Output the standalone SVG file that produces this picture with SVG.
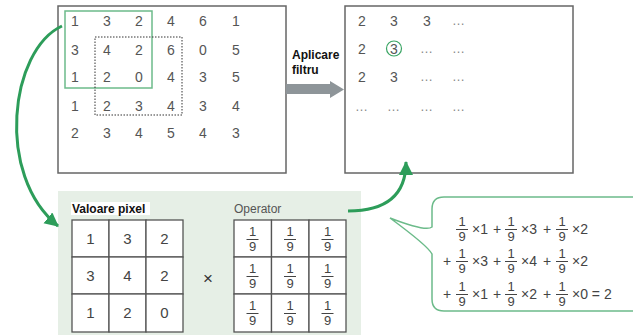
<svg xmlns="http://www.w3.org/2000/svg" width="633" height="335" viewBox="0 0 633 335">
<style>
.n{font-family:"Liberation Sans",Arial,sans-serif;font-size:14px;fill:#555;text-anchor:middle}
.d{font-family:"Liberation Sans",Arial,sans-serif;font-size:13px;fill:#888;text-anchor:middle;letter-spacing:1px}
.c{font-family:"Liberation Sans",Arial,sans-serif;font-size:15px;fill:#444;text-anchor:middle}
.f{font-family:"Liberation Sans",Arial,sans-serif;font-size:13px;fill:#444;text-anchor:middle}
.e{font-family:"Liberation Sans",Arial,sans-serif;font-size:14px;fill:#444}
.p{font-family:"Liberation Sans",Arial,sans-serif;font-size:14px;fill:#444;text-anchor:middle}
.b{font-family:"Liberation Sans",Arial,sans-serif;font-size:12px;font-weight:bold;fill:#111}
.box{fill:#fff;stroke:#666;stroke-width:1.5}
.cell{fill:#fff;stroke:#555;stroke-width:1.3}
.bar{stroke:#444;stroke-width:1}
.green{fill:none;stroke:#2d9d5a;stroke-width:3}
</style>
<defs>
<marker id="ah" markerUnits="userSpaceOnUse" markerWidth="16" markerHeight="16" refX="13" refY="7" orient="auto">
<path d="M0,0 L14,7 L0,14 Z" fill="#2d9d5a"/>
</marker>
<g id="frac"><text class="f" x="0" y="-3">1</text><line class="bar" x1="-6" y1="0.5" x2="6" y2="0.5"/><text class="f" x="0" y="12">9</text></g>
</defs>

<g id="input-image">
<rect class="box" x="58" y="6" width="228" height="167"/>
<g class="n">
<text x="75" y="26">1</text><text x="107" y="26">3</text><text x="139" y="26">2</text><text x="171" y="26">4</text><text x="203" y="26">6</text><text x="236" y="26">1</text>
<text x="75" y="55">3</text><text x="107" y="55">4</text><text x="139" y="55">2</text><text x="171" y="55">6</text><text x="203" y="55">0</text><text x="236" y="55">5</text>
<text x="75" y="82">1</text><text x="107" y="82">2</text><text x="139" y="82">0</text><text x="171" y="82">4</text><text x="203" y="82">3</text><text x="236" y="82">5</text>
<text x="75" y="111">1</text><text x="107" y="111">2</text><text x="139" y="111">3</text><text x="171" y="111">4</text><text x="203" y="111">3</text><text x="236" y="111">4</text>
<text x="75" y="138">2</text><text x="107" y="138">3</text><text x="139" y="138">4</text><text x="171" y="138">5</text><text x="203" y="138">4</text><text x="236" y="138">3</text>
</g>
<rect x="65" y="11" width="87" height="77" fill="none" stroke="#6cbb8a" stroke-width="1.5"/>
<rect x="95" y="37" width="87" height="78" fill="none" stroke="#333" stroke-width="1" stroke-dasharray="1.5,1.5"/>
</g>

<g id="output-image">
<rect class="box" x="345" y="6" width="228" height="167"/>
<text class="n" x="362" y="26">2</text><text class="n" x="394" y="26">3</text><text class="n" x="427" y="26">3</text><text class="d" x="459" y="25">…</text>
<text class="n" x="362" y="54">2</text><text class="n" x="394" y="54">3</text><text class="d" x="427" y="53">…</text><text class="d" x="459" y="53">…</text>
<text class="n" x="362" y="82">2</text><text class="n" x="394" y="82">3</text><text class="d" x="427" y="81">…</text><text class="d" x="459" y="81">…</text>
<text class="d" x="362" y="111">…</text><text class="d" x="394" y="111">…</text><text class="d" x="427" y="111">…</text><text class="d" x="459" y="111">…</text>
<circle cx="394" cy="48.5" r="7.5" fill="none" stroke="#3aa564" stroke-width="1.2"/>
</g>

<g id="apply-filter">
<polygon points="286,84 330,84 330,81 344,89.5 330,98 330,94 286,94" fill="#8e9599"/>
<text class="b" x="292" y="59">Aplicare</text>
<text class="b" x="292" y="74">filtru</text>
</g>

<g id="panel">
<rect x="58" y="191" width="303" height="144" fill="#e6efe6"/>
</g>

<g id="pixel-values">
<rect x="71" y="202" width="79" height="13" fill="#fff"/>
<text class="b" x="72" y="213">Valoare pixel</text>
<rect class="cell" x="72" y="220" width="37" height="37"/><rect class="cell" x="109" y="220" width="37" height="37"/><rect class="cell" x="146" y="220" width="37" height="37"/>
<rect class="cell" x="72" y="257" width="37" height="37"/><rect class="cell" x="109" y="257" width="37" height="37"/><rect class="cell" x="146" y="257" width="37" height="37"/>
<rect class="cell" x="72" y="294" width="37" height="38"/><rect class="cell" x="109" y="294" width="37" height="38"/><rect class="cell" x="146" y="294" width="37" height="38"/>
<text class="c" x="90.5" y="244">1</text><text class="c" x="127.5" y="244">3</text><text class="c" x="164.5" y="244">2</text>
<text class="c" x="90.5" y="281">3</text><text class="c" x="127.5" y="281">4</text><text class="c" x="164.5" y="281">2</text>
<text class="c" x="90.5" y="318">1</text><text class="c" x="127.5" y="318">2</text><text class="c" x="164.5" y="318">0</text>
</g>

<g id="times">
<text class="c" x="208" y="284" style="font-size:17px;fill:#333">×</text>
</g>

<g id="operator">
<text x="234" y="213" style="font-family:'Liberation Sans',Arial,sans-serif;font-size:12px;fill:#555">Operator</text>
<rect class="cell" x="234" y="220" width="37.5" height="37"/><rect class="cell" x="271.5" y="220" width="37.5" height="37"/><rect class="cell" x="309" y="220" width="37" height="37"/>
<rect class="cell" x="234" y="257" width="37.5" height="37"/><rect class="cell" x="271.5" y="257" width="37.5" height="37"/><rect class="cell" x="309" y="257" width="37" height="37"/>
<rect class="cell" x="234" y="294" width="37.5" height="38"/><rect class="cell" x="271.5" y="294" width="37.5" height="38"/><rect class="cell" x="309" y="294" width="37" height="38"/>
<use href="#frac" x="252.5" y="239"/><use href="#frac" x="290" y="239"/><use href="#frac" x="327.5" y="239"/>
<use href="#frac" x="252.5" y="276"/><use href="#frac" x="290" y="276"/><use href="#frac" x="327.5" y="276"/>
<use href="#frac" x="252.5" y="313"/><use href="#frac" x="290" y="313"/><use href="#frac" x="327.5" y="313"/>
</g>

<g id="formula-bubble">
<path d="M444,197 H640 V311 H444 Q432,311 432,299 V254 Q428,246 390,218 Q426,232 432,227 V209 Q432,197 444,197 Z" fill="#fff" stroke="#6cbb8a" stroke-width="1.5"/>
<use href="#frac" x="462" y="229"/><text class="e" x="472" y="234">×1</text><text class="p" x="497" y="234">+</text>
<use href="#frac" x="511" y="229"/><text class="e" x="521" y="234">×3</text><text class="p" x="547" y="234">+</text>
<use href="#frac" x="562" y="229"/><text class="e" x="572" y="234">×2</text>
<text class="p" x="447" y="266">+</text>
<use href="#frac" x="462" y="261"/><text class="e" x="472" y="266">×3</text><text class="p" x="497" y="266">+</text>
<use href="#frac" x="511" y="261"/><text class="e" x="521" y="266">×4</text><text class="p" x="547" y="266">+</text>
<use href="#frac" x="562" y="261"/><text class="e" x="572" y="266">×2</text>
<text class="p" x="447" y="299">+</text>
<use href="#frac" x="462" y="294"/><text class="e" x="472" y="299">×1</text><text class="p" x="497" y="299">+</text>
<use href="#frac" x="511" y="294"/><text class="e" x="521" y="299">×2</text><text class="p" x="547" y="299">+</text>
<use href="#frac" x="562" y="294"/><text class="e" x="572" y="299">×0 = 2</text>
</g>

<g id="connectors">
<path class="green" d="M62,26 C10,50 -5,175 58,226" marker-end="url(#ah)"/>
<path class="green" d="M348,211 C385,211 406,196 406,162" marker-end="url(#ah)"/>
</g>
</svg>
